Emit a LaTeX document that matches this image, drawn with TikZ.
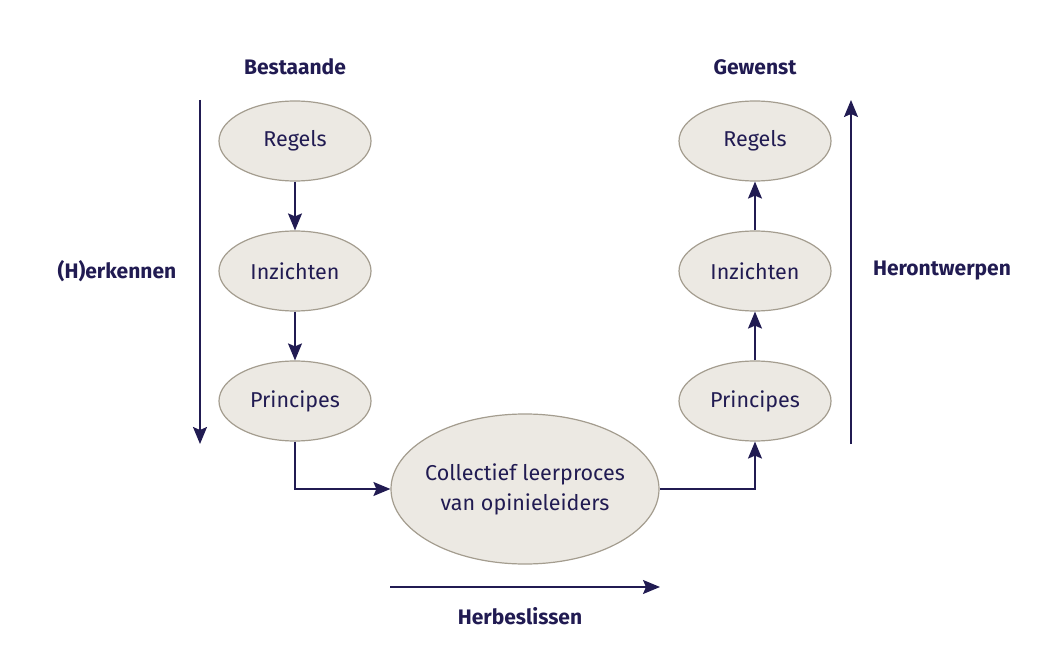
\documentclass[tikz,border=0pt]{standalone}
\usepackage{fontspec}
\setmainfont{Fira Sans}
\usetikzlibrary{arrows.meta,shapes.geometric}
\definecolor{navy}{HTML}{211B52}
\definecolor{efill}{HTML}{ECE9E3}
\definecolor{eline}{HTML}{A49D8F}
\begin{document}
\begin{tikzpicture}[x=1pt,y=-1pt,
  ell/.style={ellipse,draw=eline,fill=efill,line width=1.2pt,minimum width=152pt,minimum height=80pt,inner sep=0pt,font=\fontsize{21.5}{25}\selectfont,text=navy},
  lbl/.style={font=\fontsize{21}{25}\selectfont\bfseries,text=navy},
  con/.style={draw=navy,line width=1.6pt,-{Stealth[length=17pt,width=14pt,inset=3pt]}}]
\useasboundingbox (0,0) rectangle (1050,650);
\fill[white] (0,0) rectangle (1050,650);
\node[lbl] (best) at (295,67) {Bestaande};
\node[lbl] (gew) at (755,67) {Gewenst};
\node[ell] (r1) at (295,141) {Regels};
\node[ell] (i1) at (295,271) {Inzichten};
\node[ell] (p1) at (295,401) {Principes};
\node[ell] (r2) at (755,141) {Regels};
\node[ell] (i2) at (755,271) {Inzichten};
\node[ell] (p2) at (755,401) {Principes};
\node[ell,minimum width=268pt,minimum height=150pt,inner xsep=-12pt,align=center,font=\fontsize{21.5}{30}\selectfont] (c) at (525,489) {Collectief leerproces\\van opinieleiders};
\draw[con] (r1) -- (i1);
\draw[con] (i1) -- (p1);
\draw[con] (p2) -- (i2);
\draw[con] (i2) -- (r2);
\draw[con] (p1.south) |- (c.west);
\draw[con] (c.east) -| (p2.south);
\coordinate (la) at (200,100);
\coordinate (lb) at (200,444);
\draw[con] (la) -- (lb);
\coordinate (ra) at (851,444);
\coordinate (rb) at (851,100);
\draw[con] (ra) -- (rb);
\coordinate (ha) at (390,587);
\coordinate (hb) at (660,587);
\draw[con] (ha) -- (hb);
\node[lbl] (herk) at (117,271) {(H)erkennen};
\node[lbl] (hero) at (942,271) {Herontwerpen};
\node[lbl] (herb) at (520,616) {Herbeslissen};
\end{tikzpicture}
\end{document}
